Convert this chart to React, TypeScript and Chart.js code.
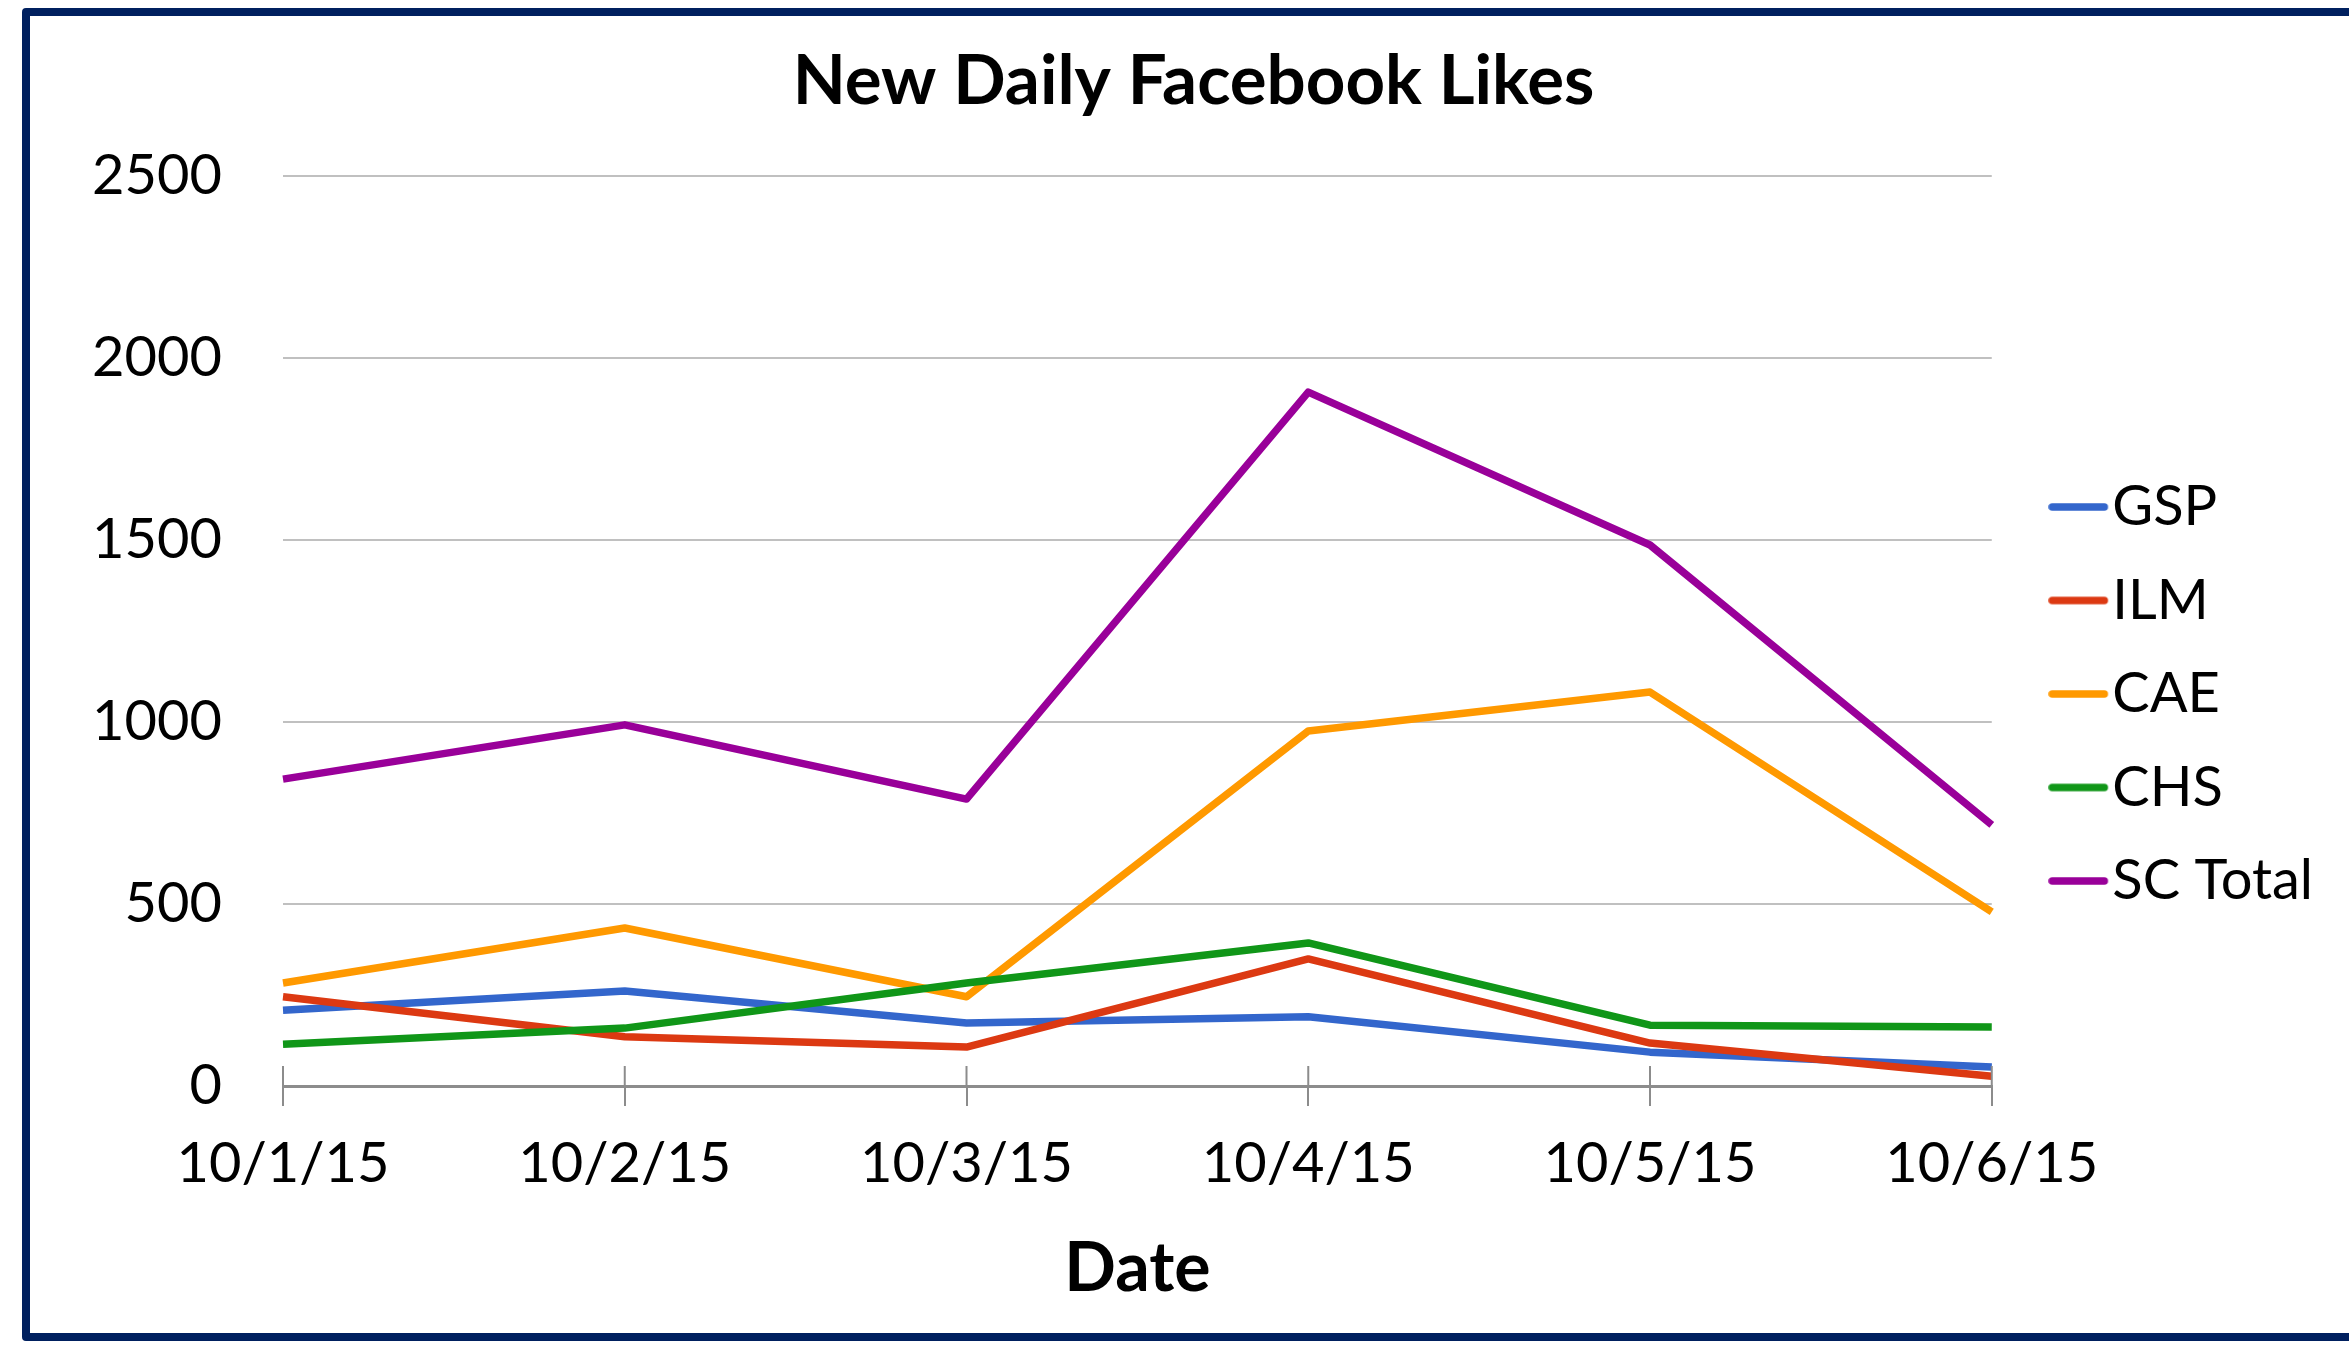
import { useEffect, useRef } from 'react';
import { Chart, registerables } from 'chart.js';

Chart.register(...registerables);

const categories = ['10/1/15', '10/2/15', '10/3/15', '10/4/15', '10/5/15', '10/6/15'];
const gsp = [208, 261, 173, 190, 93, 52];
const ilm = [245, 135, 107, 349, 118, 27];
const cae = [283, 434, 245, 975, 1082, 478];
const chs = [115, 159, 283, 393, 167, 162];
const scTotal = [843, 992, 788, 1906, 1486, 717];
const seriesNames = ['GSP', 'ILM', 'CAE', 'CHS', 'SC Total'];
const seriesColors = ['#3366CC', '#DC3912', '#FF9900', '#109618', '#990099'];
const seriesValues = [gsp, ilm, cae, chs, scTotal];
const yMin = 0;
const yMax = 2500;
const yStep = 500;
const titleText = 'New Daily Facebook Likes';
const xTitleText = 'Date';

function legendSymbol(color: string) {
  const c = document.createElement('canvas');
  c.width = 64;
  c.height = 10;
  const ctx = c.getContext('2d')!;
  ctx.strokeStyle = color;
  ctx.lineWidth = 7.5;
  ctx.lineCap = 'round';
  ctx.beginPath();
  ctx.moveTo(4, 5);
  ctx.lineTo(56, 5);
  ctx.stroke();
  return c;
}

const upTicks = {
  id: 'upTicks',
  afterDatasetsDraw(chart: any) {
    const x = chart.scales.x;
    const ctx = chart.ctx;
    const bottom = chart.chartArea.bottom;
    ctx.save();
    ctx.strokeStyle = '#8C8C8C';
    ctx.lineWidth = 2;
    for (let i = 0; i < x.ticks.length; i++) {
      const px = x.getPixelForTick(i);
      ctx.beginPath();
      ctx.moveTo(px, bottom - 20);
      ctx.lineTo(px, bottom);
      ctx.stroke();
    }
    ctx.restore();
  },
};

export default function App() {
  const ref = useRef<HTMLCanvasElement>(null);

  useEffect(() => {
    if (!ref.current) return;
    Chart.defaults.font.family = 'Lato';
    Chart.defaults.color = '#000';
    const symbols = seriesColors.map(legendSymbol);
    const chart = new Chart(ref.current, {
      type: 'line',
      data: {
        labels: categories,
        datasets: seriesNames.map((name, i) => ({
          label: name,
          data: seriesValues[i],
          borderColor: seriesColors[i],
          backgroundColor: seriesColors[i],
          borderWidth: 7.5,
          pointRadius: 0,
          borderJoinStyle: 'round' as const,
          tension: 0,
          order: seriesNames.length - i,
        })),
      },
      options: {
        responsive: false,
        animation: false,
        devicePixelRatio: 1,
        layout: { padding: { left: 64, right: 26, top: 37, bottom: 0 } },
        plugins: {
          tooltip: { enabled: false },
          title: {
            display: true,
            text: titleText,
            color: '#000',
            font: { family: 'Lato', size: 69, weight: 'bold', lineHeight: 1.2 },
            padding: { top: 3, bottom: 53 },
          },
          legend: {
            display: true,
            position: 'right',
            align: 'center',
            labels: {
              color: '#000',
              font: { family: 'Lato', size: 56 },
              usePointStyle: true,
              pointStyleWidth: 8,
              padding: 37.5,
              sort: (a: any, b: any) => a.datasetIndex - b.datasetIndex,
              generateLabels: (ch: any) => {
                const items = (Chart.defaults.plugins.legend.labels as any).generateLabels(ch);
                return items.map((it: any) => ({ ...it, pointStyle: symbols[it.datasetIndex] }));
              },
            },
          },
        },
        scales: {
          x: {
            type: 'category',
            offset: false,
            grid: {
              display: true,
              drawOnChartArea: false,
              drawTicks: true,
              tickLength: 20,
              color: '#8C8C8C',
              lineWidth: 2,
            },
            border: { display: true, color: '#8C8C8C', width: 3 },
            ticks: { font: { family: 'Lato', size: 56 }, color: '#000', padding: 24, maxRotation: 0 },
            title: {
              display: true,
              text: xTitleText,
              color: '#000',
              font: { family: 'Lato', size: 68, weight: 'bold', lineHeight: 1.2 },
              padding: { top: 0, bottom: 41 },
            },
            afterFit: (s: any) => {
              s.height = 265;
            },
          },
          y: {
            type: 'linear',
            position: 'left',
            min: yMin,
            max: yMax,
            ticks: {
              stepSize: yStep,
              font: { family: 'Lato', size: 56 },
              color: '#000',
              padding: 61,
              callback: (v: any) => String(v),
            },
            grid: {
              drawTicks: false,
              color: (c: any) => (c.tick && c.tick.value === 0 ? 'rgba(0,0,0,0)' : '#C0C0C0'),
              lineWidth: 2,
            },
            border: { display: false },
            afterFit: (s: any) => {
              s.width = 219;
            },
          },
          y2: {
            type: 'linear',
            position: 'right',
            display: true,
            grid: { display: false, drawOnChartArea: false },
            border: { display: false },
            ticks: { display: false },
            afterFit: (s: any) => {
              s.width = 47;
            },
          },
        },
      },
      plugins: [upTicks],
    } as any);
    return () => chart.destroy();
  }, []);

  return (
    <div
      style={{
        position: 'fixed',
        left: 0,
        top: 0,
        width: 2349,
        height: 1351,
        background: '#fff',
        overflow: 'hidden',
      }}
    >
      <canvas
        ref={ref}
        width={2349}
        height={1351}
        style={{ position: 'absolute', left: 0, top: 0, width: 2349, height: 1351 }}
      />
      <div
        style={{
          position: 'absolute',
          left: 22,
          top: 8,
          width: 2400,
          height: 1333,
          boxSizing: 'border-box',
          border: '8px solid #00205F',
          borderRadius: 4,
          pointerEvents: 'none',
        }}
      />
    </div>
  );
}
